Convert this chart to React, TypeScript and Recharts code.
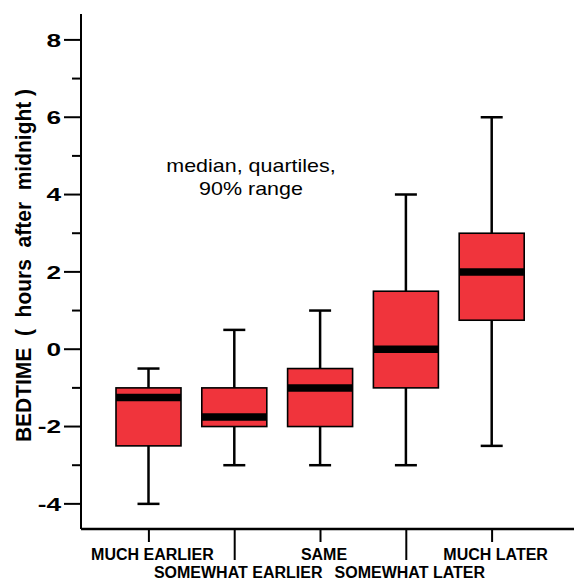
import React from 'react';
import { ComposedChart, Bar, XAxis, YAxis, Customized } from 'recharts';

const categories = ['MUCH EARLIER', 'SOMEWHAT EARLIER', 'SAME', 'SOMEWHAT LATER', 'MUCH LATER'];
const p5 = [-4, -3, -3, -3, -2.5];
const q1 = [-2.5, -2, -2, -1, 0.75];
const medians = [-1.25, -1.75, -1, 0, 2];
const q3 = [-1, -1, -0.5, 1.5, 3];
const p95 = [-0.5, 0.5, 1, 4, 6];
const yTicks = [-4, -3, -2, -1, 0, 1, 2, 3, 4, 5, 6, 7, 8];
const yLabelTicks = [-4, -2, 0, 2, 4, 6, 8];
const yDomain = [-4.65, 8.67];
const annotationLines = ['median, quartiles,', '90% range'];
const yTitle = 'BEDTIME  (  hours  after  midnight )';

const data = categories.map((name, i) => ({
  name,
  box: [q1[i], q3[i]],
  low: p5[i],
  q1: q1[i],
  median: medians[i],
  q3: q3[i],
  high: p95[i],
}));

const FONT = '"Liberation Sans", Arial, Helvetica, sans-serif';
const RED = '#F0343C';

const BoxShape = (props: any) => {
  const { x, y, width, height, payload } = props;
  const top = Math.min(y, y + height);
  const h = Math.abs(height);
  const k = h / (payload.q3 - payload.q1);
  const py = (v: number) => top + (payload.q3 - v) * k;
  const cx = x + width / 2;
  const cap = 11;
  return (
    <g>
      <line x1={cx} x2={cx} y1={py(payload.high)} y2={py(payload.q3)} stroke="#000" strokeWidth={2.5} />
      <line x1={cx} x2={cx} y1={py(payload.q1)} y2={py(payload.low)} stroke="#000" strokeWidth={2.5} />
      <line x1={cx - cap} x2={cx + cap} y1={py(payload.high)} y2={py(payload.high)} stroke="#000" strokeWidth={2.5} />
      <line x1={cx - cap} x2={cx + cap} y1={py(payload.low)} y2={py(payload.low)} stroke="#000" strokeWidth={2.5} />
      <rect x={x} y={top} width={width} height={h} fill={RED} stroke="#000" strokeWidth={1.6} />
      <line x1={x} x2={x + width} y1={py(payload.median)} y2={py(payload.median)} stroke="#000" strokeWidth={7.5} />
    </g>
  );
};

const XTick = (props: any) => {
  const { x, y, payload } = props;
  const idx = props.index ?? categories.indexOf(payload.value);
  const low = idx % 2 === 1;
  return (
    <g>
      <line x1={x} x2={x} y1={y} y2={y + (low ? 31 : 13)} stroke="#000" strokeWidth={2} />
      <text
        x={x + 3.5}
        y={y + (low ? 48.5 : 31)}
        textAnchor="middle"
        fontFamily={FONT}
        fontWeight="bold"
        fontSize={16}
        fill="#000"
      >
        {payload.value}
      </text>
    </g>
  );
};

const YTick = (props: any) => {
  const { x, y, payload } = props;
  const major = yLabelTicks.includes(payload.value);
  return (
    <g>
      <line x1={x - (major ? 17 : 9)} x2={x} y1={y} y2={y} stroke="#000" strokeWidth={2} />
      {major && (
        <text
          transform={`translate(${x - 20}, ${y}) scale(1.38, 1)`}
          x={0}
          y={0}
          dy="0.36em"
          textAnchor="end"
          fontFamily={FONT}
          fontWeight="bold"
          fontSize={19}
          fill="#000"
        >
          {payload.value}
        </text>
      )}
    </g>
  );
};

const Extras = () => (
  <g>
    {annotationLines.map((t, i) => (
      <text
        key={i}
        transform={`translate(251, ${171.7 + i * 23.3}) scale(1.13, 1)`}
        x={0}
        y={0}
        textAnchor="middle"
        fontFamily={FONT}
        fontSize={19}
        fill="#000"
      >
        {t}
      </text>
    ))}
    <text
      transform="translate(24, 265.5) rotate(-90) scale(1, 1.05)"
      x={0}
      y={0}
      textAnchor="middle"
      dominantBaseline="central"
      fontFamily={FONT}
      fontWeight="bold"
      fontSize={21}
      fill="#000"
      style={{ whiteSpace: 'pre' }}
    >
      {yTitle}
    </text>
  </g>
);

export default function App() {
  return (
    <div style={{ position: 'absolute', left: 0, top: 0, width: 574, height: 579, background: '#fff' }}>
      <ComposedChart
        width={574}
        height={579}
        data={data}
        margin={{ top: 14, right: 0, bottom: 0, left: 0 }}
      >
        <XAxis
          dataKey="name"
          xAxisId={0}
          height={50}
          interval={0}
          padding={{ left: 25, right: 39 }}
          axisLine={{ stroke: '#000', strokeWidth: 2.5 }}
          tickLine={false}
          tickSize={0}
          tickMargin={0}
          tick={<XTick />}
        />
        <XAxis
          dataKey="name"
          xAxisId="top"
          orientation="top"
          height={0}
          axisLine={{ stroke: '#000', strokeWidth: 2 }}
          tickLine={false}
          tick={false}
        />
        <YAxis
          type="number"
          domain={yDomain}
          allowDataOverflow
          ticks={yTicks}
          interval={0}
          width={81}
          axisLine={{ stroke: '#000', strokeWidth: 2 }}
          tickLine={false}
          tickSize={0}
          tickMargin={0}
          tick={<YTick />}
        />
        <Bar dataKey="box" xAxisId={0} barSize={65} shape={<BoxShape />} isAnimationActive={false} />
        <Customized component={<Extras />} />
      </ComposedChart>
    </div>
  );
}
